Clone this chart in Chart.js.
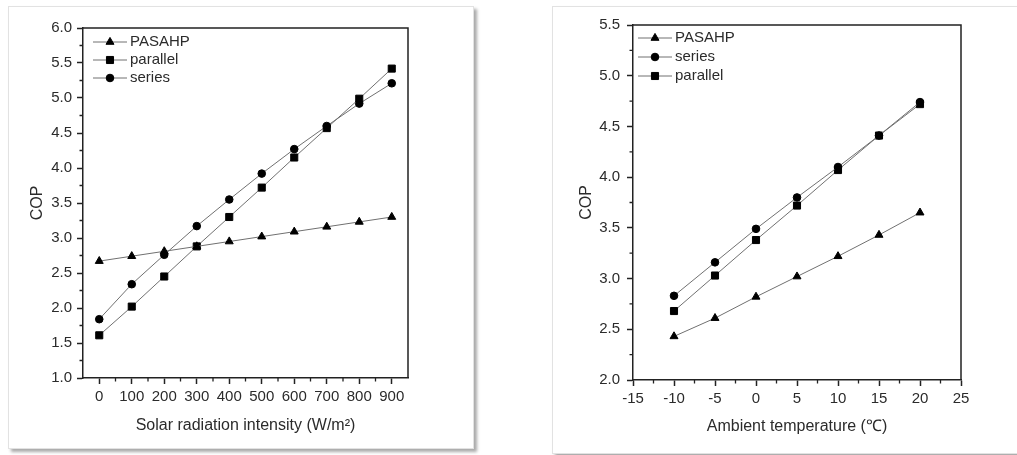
<!DOCTYPE html>
<html>
<head>
<meta charset="utf-8">
<script src="https://cdn.jsdelivr.net/npm/chart.js@4.4.1/dist/chart.umd.min.js"></script>
<style>
    body { margin: 0; background: #fff; width: 1017px; height: 455px; overflow: hidden; position: relative; }
    .panel { position: absolute; background: #fff; border: 1px solid #e2e2e2; box-shadow: 3px 3px 3px #aaa; }
    .panel canvas { display: block; }
</style>
</head>
<body>
<div class="panel" style="left:8px;top:6px;width:464px;height:441px"><canvas id="leftChart" width="464" height="441"></canvas></div>
<div class="panel" style="left:552px;top:6px;width:470px;height:446px"><canvas id="rightChart" width="470" height="446"></canvas></div>
<script>
// Left chart : COP vs solar radiation
const radiation = [0, 100, 200, 300, 400, 500, 600, 700, 800, 900]
const radiationTicks = [0, 100, 200, 300, 400, 500, 600, 700, 800, 900]
const leftPasahp = [2.67, 2.74, 2.81, 2.88, 2.95, 3.02, 3.09, 3.16, 3.23, 3.30]
const leftParallel = [1.61, 2.02, 2.45, 2.88, 3.30, 3.72, 4.15, 4.57, 4.99, 5.42]
const leftSeries = [1.84, 2.34, 2.76, 3.17, 3.55, 3.92, 4.27, 4.60, 4.92, 5.21]

// Right chart : COP vs ambient temperature
const ambientTemp = [-10, -5, 0, 5, 10, 15, 20]
const rightPasahp = [2.43, 2.61, 2.82, 3.02, 3.22, 3.43, 3.65]
const rightSeries = [2.83, 3.16, 3.49, 3.80, 4.10, 4.41, 4.74]
const rightParallel = [2.68, 3.03, 3.38, 3.72, 4.07, 4.41, 4.72]

const FONT = '"Liberation Sans", Arial, sans-serif'
const INK = '#2b2b2b'
const AXIS = '#222'
const LINE = '#707070'

const toPoints = (xs, ys) => xs.map((x, i) => ({ x: x, y: ys[i] }))

function makeDataset(label, xs, ys, style) {
    const radius = { triangle: 4.6, rect: 5, circle: 3.8 }[style]
    return {
        label: label,
        data: toPoints(xs, ys),
        borderColor: LINE,
        borderWidth: 1,
        pointStyle: style,
        pointRadius: radius,
        pointHoverRadius: radius,
        pointBackgroundColor: '#000',
        pointBorderColor: '#000',
        pointBorderWidth: 1
    }
}

function drawMarker(ctx, style, r, x, y) {
    ctx.beginPath()
    if (style === 'circle') {
        ctx.arc(x, y, r, 0, Math.PI * 2)
    } else if (style === 'rect') {
        const s = r * Math.SQRT1_2
        ctx.rect(x - s, y - s, 2 * s, 2 * s)
    } else {
        ctx.moveTo(x, y - r)
        ctx.lineTo(x + r * 0.866, y + r / 2)
        ctx.lineTo(x - r * 0.866, y + r / 2)
        ctx.closePath()
    }
    ctx.fill()
    ctx.stroke()
}

// Legend drawn inside the plot area, top left
const innerLegend = {
    id: 'innerLegend',
    afterDatasetsDraw(chart, args, opts) {
        const { ctx, chartArea: a } = chart
        chart.data.datasets.forEach((ds, i) => {
            const yy = a.top + opts.top + i * opts.gap
            const x0 = a.left + opts.left
            ctx.save()
            ctx.strokeStyle = LINE
            ctx.lineWidth = 1
            ctx.beginPath()
            ctx.moveTo(x0, yy)
            ctx.lineTo(x0 + 34, yy)
            ctx.stroke()
            ctx.fillStyle = '#000'
            ctx.strokeStyle = '#000'
            drawMarker(ctx, ds.pointStyle, ds.pointRadius, x0 + 17, yy)
            ctx.fillStyle = INK
            ctx.font = '15px ' + FONT
            ctx.textBaseline = 'middle'
            ctx.fillText(ds.label, x0 + 37, yy)
            ctx.restore()
        })
    }
}

// Top/right frame and the small minor ticks halfway between major ones
const frameAndMinor = {
    id: 'frameAndMinor',
    afterDraw(chart) {
        const { ctx, chartArea: a, scales } = chart
        ctx.save()
        ctx.strokeStyle = AXIS
        ctx.lineWidth = 1.5
        ctx.beginPath()
        ctx.moveTo(a.left, a.top)
        ctx.lineTo(a.right, a.top)
        ctx.lineTo(a.right, a.bottom)
        ctx.stroke()

        ctx.lineWidth = 1.3
        ctx.beginPath()
        const xt = scales.x.ticks
        for (let i = 0; i < xt.length - 1; i++) {
            const px = scales.x.getPixelForValue((xt[i].value + xt[i + 1].value) / 2)
            ctx.moveTo(px, a.bottom)
            ctx.lineTo(px, a.bottom + 3.5)
        }
        const yt = scales.y.ticks
        for (let i = 0; i < yt.length - 1; i++) {
            const py = scales.y.getPixelForValue((yt[i].value + yt[i + 1].value) / 2)
            ctx.moveTo(a.left, py)
            ctx.lineTo(a.left - 3.5, py)
        }
        ctx.stroke()
        ctx.restore()
    }
}

function axisCommon() {
    return {
        type: 'linear',
        border: { display: true, color: AXIS, width: 1.5 },
        grid: { drawOnChartArea: false, drawTicks: true, tickLength: 6, tickColor: AXIS, tickWidth: 1.5 }
    }
}

/**
 * Build one of the two panels
 */
function buildChart(id, cfg) {
    const xAxis = Object.assign(axisCommon(), {
        min: cfg.xMin,
        max: cfg.xMax,
        ticks: { color: INK, font: { family: FONT, size: 15 }, padding: 4, maxRotation: 0, autoSkip: false, stepSize: cfg.xStep },
        title: { display: true, text: cfg.xTitle, color: INK, font: { family: FONT, size: 16 }, padding: { top: 0, bottom: cfg.xTitlePad } },
        afterFit: (s) => { s.height = cfg.xHeight }
    })
    if (cfg.xTicks) {
        xAxis.afterBuildTicks = (s) => { s.ticks = cfg.xTicks.map(v => ({ value: v })) }
    }
    const yAxis = Object.assign(axisCommon(), {
        min: cfg.yMin,
        max: cfg.yMax,
        ticks: { color: INK, font: { family: FONT, size: 15 }, padding: cfg.yPad, stepSize: 0.5, callback: (v) => v.toFixed(1) },
        title: { display: true, text: 'COP', color: INK, font: { family: FONT, size: 16 }, padding: { top: cfg.yTitlePad, bottom: 0 } },
        afterFit: (s) => { s.width = cfg.yWidth }
    })

    return new Chart(document.getElementById(id), {
        type: 'line',
        data: { datasets: cfg.datasets },
        options: {
            responsive: false,
            animation: false,
            layout: { padding: { left: 0, top: cfg.padTop, right: cfg.padRight, bottom: 0 } },
            scales: { x: xAxis, y: yAxis },
            plugins: {
                legend: { display: false },
                tooltip: { enabled: false },
                innerLegend: cfg.legend
            }
        },
        plugins: [innerLegend, frameAndMinor]
    })
}

buildChart('leftChart', {
    datasets: [
        makeDataset('PASAHP', radiation, leftPasahp, 'triangle'),
        makeDataset('parallel', radiation, leftParallel, 'rect'),
        makeDataset('series', radiation, leftSeries, 'circle')
    ],
    xMin: -50, xMax: 950, xTicks: radiationTicks,
    yMin: 1, yMax: 6,
    xTitle: 'Solar radiation intensity (W/m²)',
    xHeight: 70, yWidth: 74, padTop: 21, padRight: 65,
    xTitlePad: 12.4, yTitlePad: 19.4, yPad: 5,
    legend: { left: 10, top: 14, gap: 18 }
})

buildChart('rightChart', {
    datasets: [
        makeDataset('PASAHP', ambientTemp, rightPasahp, 'triangle'),
        makeDataset('series', ambientTemp, rightSeries, 'circle'),
        makeDataset('parallel', ambientTemp, rightParallel, 'rect')
    ],
    xMin: -15, xMax: 25, xStep: 5,
    yMin: 2, yMax: 5.5,
    xTitle: 'Ambient temperature (℃)',
    xHeight: 73, yWidth: 80, padTop: 18, padRight: 62,
    xTitlePad: 16.4, yTitlePad: 24.4, yPad: 7,
    legend: { left: 5, top: 13, gap: 19 }
})
</script>
</body>
</html>
